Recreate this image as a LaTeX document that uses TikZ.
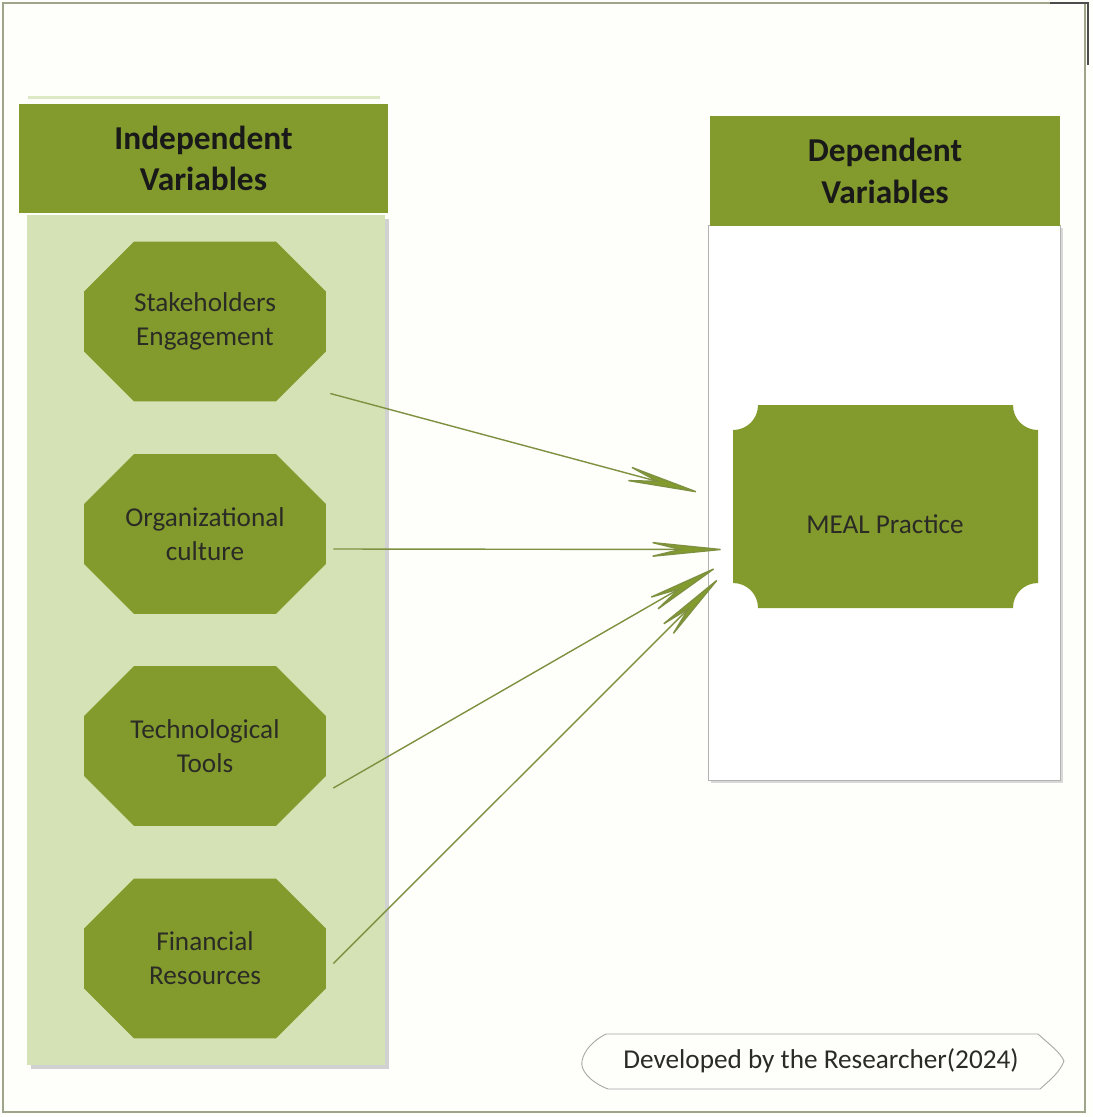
\documentclass[tikz,border=0pt]{standalone}
\usepackage{fontspec}
\setmainfont{Carlito}
\usetikzlibrary{shapes.misc,arrows.meta,calc}
\definecolor{oliveg}{HTML}{839B2D}
\definecolor{lightg}{HTML}{D5E2B6}
\definecolor{bgc}{HTML}{FEFEFA}
\definecolor{framec}{HTML}{9EA58A}
\definecolor{arrc}{HTML}{7E9140}
\definecolor{txtc}{HTML}{2B2B26}
\tikzset{
  oct/.style={chamfered rectangle, chamfered rectangle xsep=0.5cm, chamfered rectangle ysep=0.5cm,
    fill=oliveg, minimum width=4.84cm, minimum height=3.2cm, inner sep=0pt, align=center,
    font=\fontsize{15.5}{19.5}\selectfont, text=txtc},
  hdr/.style={fill=oliveg, inner sep=0pt, align=center, font=\bfseries\fontsize{19}{23.5}\selectfont, text=black!90},
  conn/.style={draw=arrc, line width=0.8pt, -{Stealth[length=1.7cm, width=0.34cm, inset=0.7cm, fill=oliveg]}},
}
\begin{document}
\begin{tikzpicture}[x=0.02cm,y=-0.02cm]
\useasboundingbox (0,0) rectangle (1093,1117);
\fill[bgc] (0,0) rectangle (1093,1117);
\draw[framec, line width=1pt] (3,3) rectangle (1085,1112);
\draw[black!70, line width=1.6pt] (1050,3) -- (1088,3) -- (1088,65);
% left panel
\fill[black!18] (31,219) rectangle (389,1069);
\fill[lightg] (27,215) rectangle (385,1065);
\fill[lightg!80] (28,96) rectangle (380,99);
\node[hdr, minimum width=7.38cm, minimum height=2.18cm] (ih) at (203.5,158.5) {Independent\\Variables};
% right panel
\fill[black!15] (711,228) rectangle (1063,783);
\draw[fill=white, draw=black!30, line width=0.5pt] (708,225) rectangle (1060,780);
\node[hdr, minimum width=7cm, minimum height=2.2cm] (dh) at (885,171) {Dependent\\Variables};
% octagons
\node[oct] (s1) at (205,321.5) {Stakeholders\\Engagement};
\node[oct] (s2) at (205,534) {Organizational\\culture};
\node[oct] (s3) at (205,746) {Technological\\Tools};
\node[oct] (s4) at (205,958.5) {Financial\\Resources};
% MEAL box with concave corners
\fill[oliveg] (758,405) -- (1013,405) .. controls (1013,419) and (1024,430) .. (1038,430)
  -- (1038,583) .. controls (1024,583) and (1013,594) .. (1013,608)
  -- (758,608) .. controls (758,594) and (747,583) .. (733,583)
  -- (733,430) .. controls (747,430) and (758,419) .. (758,405) -- cycle;
\node[inner sep=0pt, minimum width=6.1cm, minimum height=4.06cm] (meal) at (885.5,506.5) {};
\node[inner sep=0pt, font=\fontsize{15.5}{19}\selectfont, text=txtc] (mealt) at (885,524) {MEAL Practice};
% connectors
\draw[conn] ($(s1.east)+(4,72)$) -- ($(meal.west)+(-30,-13)$);
\draw[conn] ($(s2.east)+(7,15)$) -- ($(meal.west)+(-5,43)$);
\draw[conn] ($(s3.east)+(7,42)$) -- ($(meal.west)+(-13,59)$);
\draw[conn] ($(s4.east)+(7,5)$) -- ($(meal.west)+(-11,69)$);
% footer
\draw[fill=bgc!70!white, draw=black!35, line width=0.5pt] (606,1034) -- (1038,1034)
  .. controls (1050,1045) and (1060,1052) .. (1064,1061)
  .. controls (1060,1072) and (1050,1080) .. (1040,1089) -- (608,1089)
  .. controls (590,1082) and (580,1070) .. (582,1061)
  .. controls (584,1050) and (594,1040) .. (606,1034) -- cycle;
\node[inner sep=0pt, font=\fontsize{15.5}{19}\selectfont, text=txtc] (foot) at (821,1061) {Developed by the Researcher(2024)};
\end{tikzpicture}
\end{document}
